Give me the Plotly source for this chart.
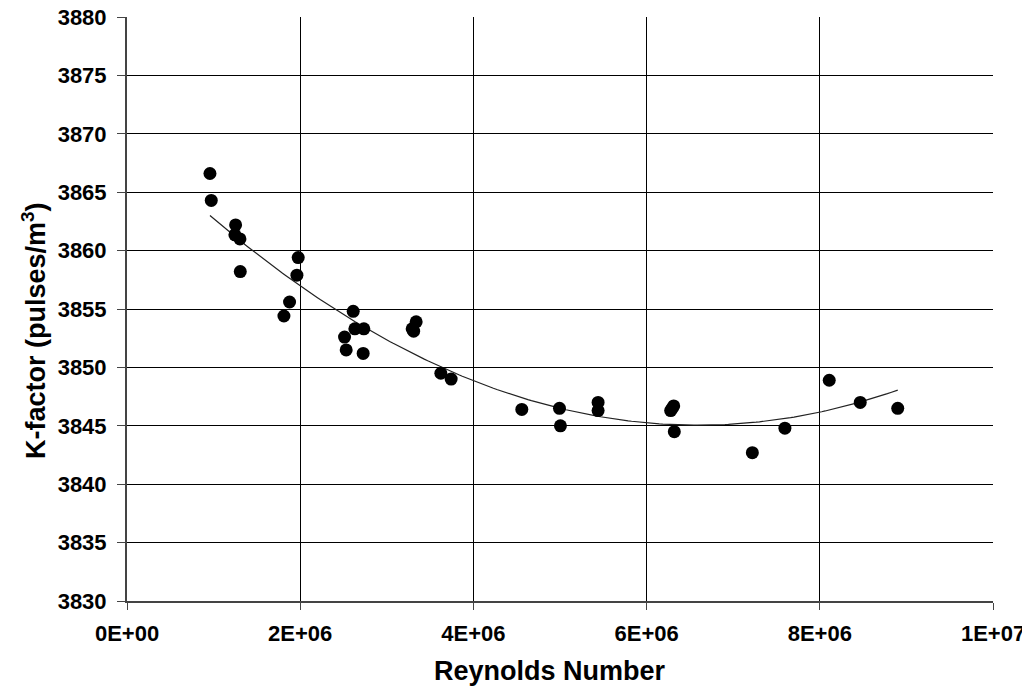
import numpy as np
import plotly.graph_objects as go

reynolds = [0.958e6, 0.973e6, 1.254e6, 1.246e6, 1.304e6, 1.308e6, 1.977e6, 1.962e6,
            1.877e6, 1.812e6, 2.612e6, 2.631e6, 2.735e6, 2.512e6, 2.531e6, 2.727e6,
            3.339e6, 3.293e6, 3.31e6, 3.624e6, 3.743e6, 4.559e6, 4.994e6, 5.005e6,
            5.44e6, 5.44e6, 6.313e6, 6.295e6, 6.278e6, 6.32e6, 7.221e6, 7.597e6,
            8.109e6, 8.467e6, 8.90e6]
kfactor = [3866.6, 3864.3, 3862.2, 3861.35, 3861.0, 3858.2, 3859.4, 3857.9,
           3855.6, 3854.4, 3854.8, 3853.3, 3853.3, 3852.6, 3851.5, 3851.2,
           3853.9, 3853.3, 3853.1, 3849.5, 3849.0, 3846.4, 3846.5, 3845.0,
           3847.0, 3846.3, 3846.7, 3846.5, 3846.3, 3844.5, 3842.7, 3844.8,
           3848.9, 3847.0, 3846.5]

x_tickvals = [0, 2e6, 4e6, 6e6, 8e6, 1e7]
x_ticktext = ["0E+00", "2E+06", "4E+06", "6E+06", "8E+06", "1E+07"]

x_title = "<b>Reynolds Number</b>"
y_title = "<b>K-factor (pulses/m<sup>3</sup>)</b>"

# quadratic trendline fitted to the data (Excel-style polynomial trendline)
coef = np.polyfit(np.array(reynolds) / 1e6, np.array(kfactor), 2)
xt = np.linspace(min(reynolds), max(reynolds), 200)
yt = np.polyval(coef, xt / 1e6)

font_family = "Liberation Sans, Arial, sans-serif"

fig = go.Figure()
fig.add_trace(go.Scatter(x=xt, y=yt, mode="lines",
                         line=dict(color="#222222", width=1.2),
                         hoverinfo="skip", showlegend=False))
fig.add_trace(go.Scatter(x=reynolds, y=kfactor, mode="markers",
                         marker=dict(color="black", size=13),
                         showlegend=False))

fig.update_layout(
    width=1030, height=688,
    margin=dict(l=119, r=45, t=9, b=95, autoexpand=False),
    paper_bgcolor="white", plot_bgcolor="white",
    font=dict(family=font_family, color="black"),
    annotations=[
        dict(text=x_title, xref="paper", yref="paper", x=0.4885, y=-0.1199,
             xanchor="center", yanchor="middle", showarrow=False,
             font=dict(size=27, family=font_family, color="black")),
        dict(text=y_title, xref="paper", yref="paper", x=-0.1074, y=0.464,
             xanchor="center", yanchor="middle", showarrow=False, textangle=-90,
             font=dict(size=27, family=font_family, color="black")),
    ],
)
fig.update_xaxes(
    range=[0, 1e7], tickvals=x_tickvals, ticktext=x_ticktext,
    showgrid=True, gridcolor="black", gridwidth=1,
    showline=True, linecolor="#444444", linewidth=2, mirror=False,
    ticks="outside", ticklen=7, tickcolor="#444444", tickwidth=1,
    tickfont=dict(size=22, family=font_family, color="black", weight="bold"),
    ticklabelstandoff=5, ticklabeloverflow="allow",
    automargin=False, zeroline=False,
)
fig.update_yaxes(
    range=[3830, 3880], dtick=5,
    showgrid=True, gridcolor="black", gridwidth=1,
    showline=True, linecolor="#444444", linewidth=2, mirror=False,
    ticks="outside", ticklen=8, tickcolor="#444444", tickwidth=1,
    tickfont=dict(size=22, family=font_family, color="black", weight="bold"),
    ticklabelstandoff=6, ticklabeloverflow="allow",
    automargin=False, zeroline=False,
)

fig.write_html("out.html")
